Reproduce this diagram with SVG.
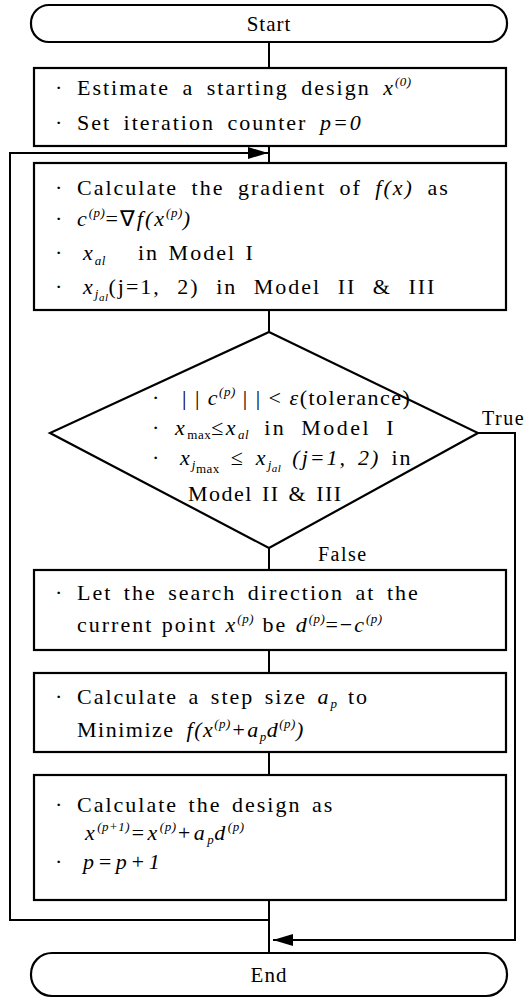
<svg xmlns="http://www.w3.org/2000/svg" width="527" height="998" viewBox="0 0 527 998">
<defs>
<style>
.bx{fill:#fff;stroke:#000;stroke-width:2.2}
.ln{fill:none;stroke:#000;stroke-width:2}
text{font-family:"Liberation Serif","Times New Roman",serif;font-size:22px;fill:#000;letter-spacing:2px;word-spacing:5px}
.i{font-style:italic}
.s{font-size:13px;letter-spacing:0.5px}
.ss{font-size:11px;letter-spacing:0.5px}
</style>
<marker id="ah" viewBox="0 0 20 12" refX="20" refY="6" markerWidth="20" markerHeight="12" orient="auto" markerUnits="userSpaceOnUse">
<path d="M0,0 L20,6 L0,12 Z" fill="#000"/>
</marker>
</defs>
<rect width="527" height="998" fill="#fff"/>

<g id="connectors">
<path class="ln" d="M269,42 V68"/>
<path class="ln" d="M269,146 V163"/>
<path class="ln" d="M269,920 H10 V153 H268" marker-end="url(#ah)"/>
<path class="ln" d="M269,310 V332"/>
<path class="ln" d="M269,548 V570"/>
<path class="ln" d="M269,650 V673"/>
<path class="ln" d="M269,752 V775"/>
<path class="ln" d="M269,900 V953"/>
<path class="ln" d="M478,433 H515 V940 H273" marker-end="url(#ah)"/>
<text x="482" y="425" style="font-size:20px;letter-spacing:1.5px">True</text>
<text x="318" y="561" style="font-size:20px;letter-spacing:1.5px">False</text>
</g>

<g id="start">
<rect class="bx" x="31" y="5" width="476" height="37" rx="18"/>
<text x="269" y="31" text-anchor="middle" style="font-size:21px;letter-spacing:1px">Start</text>
</g>

<g id="init">
<rect class="bx" x="34" y="68" width="472" height="78"/>
<text x="55" y="95">·</text>
<text x="77" y="95">Estimate a starting design <tspan class="i">x</tspan><tspan class="i s" dy="-9">(0)</tspan></text>
<text x="55" y="130">·</text>
<text x="77" y="130">Set iteration counter <tspan class="i">p=0</tspan></text>
</g>

<g id="gradient">
<rect class="bx" x="34" y="163" width="472" height="147"/>
<text x="55" y="195">·</text>
<text x="77" y="195" style="word-spacing:6px">Calculate the gradient of <tspan class="i">f(x)</tspan> as</text>
<text x="55" y="226">·</text>
<text x="77" y="226"><tspan class="i">c</tspan><tspan class="i s" dy="-9">(p)</tspan><tspan dy="9">=∇</tspan><tspan class="i">f(x</tspan><tspan class="i s" dy="-9">(p)</tspan><tspan class="i" dy="9">)</tspan></text>
<text x="55" y="260">·</text>
<text x="83" y="260"><tspan class="i">x</tspan><tspan class="i s" dy="5">al</tspan></text>
<text x="138" y="260" style="word-spacing:2px">in Model I</text>
<text x="55" y="294">·</text>
<text x="83" y="294" style="word-spacing:9px"><tspan class="i">x</tspan><tspan class="i s" dy="4">j</tspan><tspan class="i ss" dy="3">al</tspan><tspan dy="-7">(j=1, 2) in Model II &amp; III</tspan></text>
</g>

<g id="check">
<polygon class="bx" points="269,332 478,433 269,548 50,433"/>
<text x="152" y="405">·</text>
<text x="182" y="405" style="letter-spacing:1.5px;word-spacing:0">| | <tspan class="i">c</tspan><tspan class="i s" dy="-9">(p)</tspan><tspan dy="9"> | | &lt; </tspan><tspan class="i">ε</tspan>(tolerance)</text>
<text x="152" y="435">·</text>
<text x="175" y="435" style="letter-spacing:2.5px;word-spacing:7px"><tspan class="i">x</tspan><tspan class="s" dy="4">max</tspan><tspan dy="-4">≤</tspan><tspan class="i">x</tspan><tspan class="i s" dy="4">al</tspan><tspan dy="-4"> in Model I</tspan></text>
<text x="152" y="465">·</text>
<text x="180" y="465" style="word-spacing:3.5px"><tspan class="i">x</tspan><tspan class="i s" dy="4">j</tspan><tspan class="s" dy="4">max</tspan><tspan dy="-8"> ≤ </tspan><tspan class="i">x</tspan><tspan class="i s" dy="4">j</tspan><tspan class="i ss" dy="3">al</tspan><tspan class="i" dy="-7"> (j=1, 2)</tspan> in</text>
<text x="188" y="501" style="letter-spacing:1.5px;word-spacing:2px">Model II &amp; III</text>
</g>

<g id="direction">
<rect class="bx" x="34" y="570" width="472" height="80"/>
<text x="55" y="600">·</text>
<text x="77" y="600" style="word-spacing:4px">Let the search direction at the</text>
<text x="77" y="632" style="word-spacing:1px">current point <tspan class="i">x</tspan><tspan class="i s" dy="-9">(p)</tspan><tspan dy="9"> be </tspan><tspan class="i">d</tspan><tspan class="i s" dy="-9">(p)</tspan><tspan dy="9">=−</tspan><tspan class="i">c</tspan><tspan class="i s" dy="-9">(p)</tspan></text>
</g>

<g id="step">
<rect class="bx" x="34" y="673" width="472" height="79"/>
<text x="55" y="704">·</text>
<text x="77" y="704" style="word-spacing:3px">Calculate a step size <tspan class="i">a</tspan><tspan class="i s" dy="4">p</tspan><tspan dy="-4"> to</tspan></text>
<text x="77" y="737" style="letter-spacing:1.5px">Minimize <tspan class="i">f(x</tspan><tspan class="i s" dy="-9">(p)</tspan><tspan class="i" dy="9">+a</tspan><tspan class="i s" dy="4">p</tspan><tspan class="i" dy="-4">d</tspan><tspan class="i s" dy="-9">(p)</tspan><tspan class="i" dy="9">)</tspan></text>
</g>

<g id="update">
<rect class="bx" x="34" y="775" width="472" height="125"/>
<text x="55" y="812">·</text>
<text x="77" y="812" style="word-spacing:3px">Calculate the design as</text>
<text x="85" y="840" style="letter-spacing:2.5px"><tspan class="i">x</tspan><tspan class="i s" dy="-9">(p+1)</tspan><tspan class="i" dy="9">=x</tspan><tspan class="i s" dy="-9">(p)</tspan><tspan class="i" dy="9">+a</tspan><tspan class="i s" dy="4">p</tspan><tspan class="i" dy="-4">d</tspan><tspan class="i s" dy="-9">(p)</tspan></text>
<text x="55" y="869">·</text>
<text x="83" y="869" class="i" style="letter-spacing:3.5px">p=p+1</text>
</g>

<g id="end">
<rect class="bx" x="31" y="953" width="476" height="43" rx="21"/>
<text x="269" y="982" text-anchor="middle" style="font-size:21px;letter-spacing:1px">End</text>
</g>
</svg>
